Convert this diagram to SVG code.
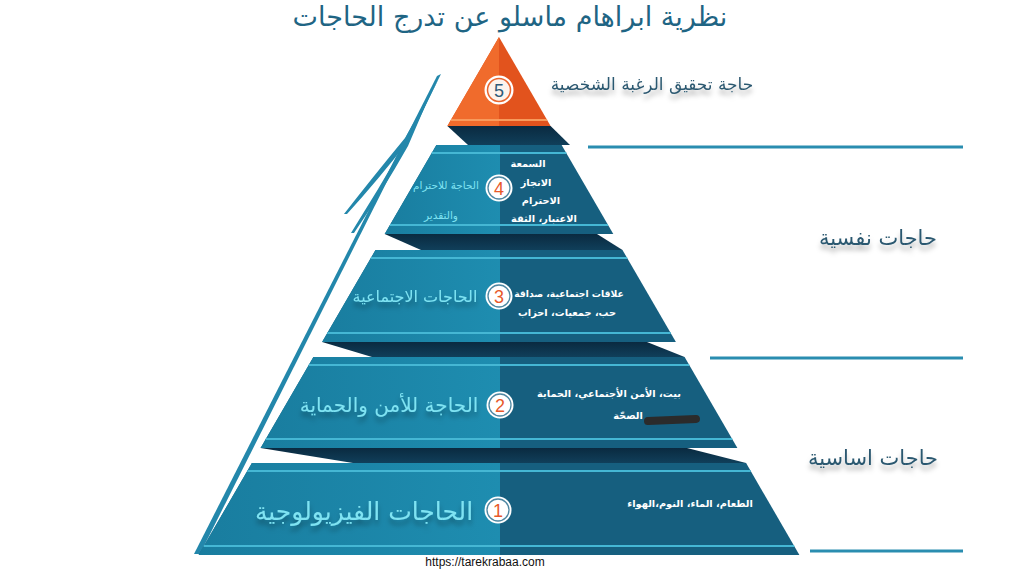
<svg xmlns="http://www.w3.org/2000/svg" width="1024" height="576" viewBox="0 0 1024 576">
<defs>
<style>
.ar{font-family:"DejaVu Sans",sans-serif;}
.title{font-size:27px;fill:#1f6584;text-anchor:middle;}
.side{font-size:21px;fill:#2c5870;text-anchor:middle;}
.cyan{fill:#7fe3f2;text-anchor:middle;}
.wt{fill:#ffffff;font-weight:bold;font-size:9.8px;text-anchor:middle;}
.num{font-family:"Liberation Sans",sans-serif;font-size:18px;text-anchor:middle;fill:#e8592a;}
.stripe{stroke:#45b7d4;stroke-width:2;}
.hline{stroke:#2a8db0;stroke-width:3;}
.lt{fill:url(#gl);}
.dk{fill:#165f7f;}
.sh{fill:url(#gs);}
</style>
<linearGradient id="gl" x1="0" y1="0" x2="1" y2="0">
<stop offset="0" stop-color="#197d9f"/>
<stop offset="1" stop-color="#1e8db0"/>
</linearGradient>
<linearGradient id="gs" x1="0" y1="0" x2="0" y2="1">
<stop offset="0" stop-color="#0a2a40"/>
<stop offset="1" stop-color="#103f5a"/>
</linearGradient>
<filter id="tsh" x="-10%" y="-30%" width="120%" height="180%">
<feDropShadow dx="0" dy="5" stdDeviation="2.5" flood-color="#000" flood-opacity="0.3"/>
</filter>
</defs>
<rect width="1024" height="576" fill="#ffffff"/>

<text class="ar title" x="510" y="26">نظرية ابراهام ماسلو عن تدرج الحاجات</text>

<g id="arrow" fill="#2387ab">
<polygon points="194,554 200,554 441,74 437,76"/>
<path d="M438,80 L405,138 Q372,178 344,214 L347,214 Q378,180 409,140 Z"/>
<path d="M432,90 L404,145 Q378,190 351,233 L354,233 Q382,192 408,146 Z"/>
</g>

<g id="connectors">
<line class="hline" x1="588" y1="147" x2="963" y2="147"/>
<line class="hline" x1="710" y1="358" x2="963" y2="358"/>
<line class="hline" x1="810" y1="551" x2="963" y2="551"/>
</g>

<g id="shadows">
<polygon class="sh" points="447.4,126 550.6,126 570,145 468,145"/>
<polygon class="sh" points="384.7,234 597,234 622.5,250 421,250"/>
<polygon class="sh" points="322.1,342 647,342 684.6,357 372,357"/>
<polygon class="sh" points="260.6,448 687,448 746.1,463 353,463"/>
</g>

<g id="tier5">
<polygon points="499,37 550.6,126 447.4,126" fill="#e2531d"/>
<polygon points="499,37 499,126 447.4,126" fill="#f06b2c"/>
<line x1="450.9" y1="120" x2="547.1" y2="120" stroke="#f89a5c" stroke-width="2"/>
<circle cx="499" cy="90" r="14.5" fill="#ffffff"/>
<circle cx="499" cy="90" r="11.5" fill="#fdf3ec" stroke="#e8652e" stroke-width="1.5"/>
<text class="num" x="499" y="96.5" style="fill:#2e5a78">5</text>
<text class="ar side" x="652" y="90" style="font-size:17px" filter="url(#tsh)">حاجة تحقيق الرغبة الشخصية</text>
</g>

<g id="tier4">
<polygon class="dk" points="436.4,145 561.6,145 613.3,234 384.7,234"/>
<polygon class="lt" points="436.4,145 500,145 500,234 384.7,234"/>
<line class="stripe" x1="431.7" y1="153" x2="566.3" y2="153"/>
<line class="stripe" x1="390" y1="225" x2="608" y2="225"/>
<circle cx="499" cy="188" r="13.5" fill="#ffffff"/>
<circle cx="499" cy="188" r="11" fill="#ffffff" stroke="#4d87a2" stroke-width="1.3"/>
<text class="num" x="499" y="194.5">4</text>
<text class="ar cyan" x="446" y="189" style="font-size:10.5px">الحاجة للاحترام</text>
<text class="ar cyan" x="441" y="219" style="font-size:10.5px">والتقدير</text>
<text class="ar wt" x="528" y="167">السمعة</text>
<text class="ar wt" x="536" y="186">الانجاز</text>
<text class="ar wt" x="541" y="204">الاحترام</text>
<text class="ar wt" x="544" y="222">الاعتبار، الثقة</text>
</g>

<g id="tier3">
<polygon class="dk" points="375.5,250 622.5,250 675.9,342 322.1,342"/>
<polygon class="lt" points="375.5,250 500,250 500,342 322.1,342"/>
<line class="stripe" x1="370.8" y1="258" x2="627.2" y2="258"/>
<line class="stripe" x1="327.3" y1="333" x2="670.7" y2="333"/>
<circle cx="499" cy="296" r="13.5" fill="#ffffff"/>
<circle cx="499" cy="296" r="11" fill="#ffffff" stroke="#4d87a2" stroke-width="1.3"/>
<text class="num" x="499" y="302.5">3</text>
<text class="ar cyan" x="415" y="302" style="font-size:16px" filter="url(#tsh)">الحاجات الاجتماعية</text>
<text class="ar wt" x="569" y="297" style="font-size:9.2px">علاقات اجتماعية، صداقة</text>
<text class="ar wt" x="567" y="316">حب، جمعيات، احزاب</text>
</g>

<g id="tier2">
<polygon class="dk" points="313.4,357 684.6,357 737.4,448 260.6,448"/>
<polygon class="lt" points="313.4,357 500,357 500,448 260.6,448"/>
<line class="stripe" x1="308.8" y1="365" x2="689.2" y2="365"/>
<line class="stripe" x1="265.8" y1="439" x2="732.2" y2="439"/>
<circle cx="500" cy="405" r="13.5" fill="#ffffff"/>
<circle cx="500" cy="405" r="11" fill="#ffffff" stroke="#4d87a2" stroke-width="1.3"/>
<text class="num" x="500" y="411.5">2</text>
<text class="ar cyan" x="389" y="412" style="font-size:20px" filter="url(#tsh)">الحاجة للأمن والحماية</text>
<text class="ar wt" x="609" y="397">بيت، الأمن الأجتماعي، الحماية</text>
<text class="ar wt" x="628" y="419">الصحّة</text>
<line x1="648" y1="421" x2="696" y2="419" stroke="#2b2b2b" stroke-width="8" stroke-linecap="round"/>
</g>

<g id="tier1">
<polygon class="dk" points="251.9,463 746.1,463 799.4,555 198.6,555"/>
<polygon class="lt" points="251.9,463 500,463 500,555 198.6,555"/>
<line class="stripe" x1="247.3" y1="471" x2="750.7" y2="471"/>
<line class="stripe" x1="203.8" y1="546" x2="794.2" y2="546"/>
<circle cx="498" cy="510" r="13.5" fill="#ffffff"/>
<circle cx="498" cy="510" r="11" fill="#ffffff" stroke="#4d87a2" stroke-width="1.3"/>
<text class="num" x="498" y="516.5">1</text>
<text class="ar cyan" x="364" y="520" style="font-size:25px" filter="url(#tsh)">الحاجات الفيزيولوجية</text>
<text class="ar wt" x="690" y="507">الطعام، الماء، النوم،الهواء</text>
</g>

<g id="labels">
<text class="ar side" x="878" y="245" filter="url(#tsh)">حاجات نفسية</text>
<text class="ar side" x="873" y="465" filter="url(#tsh)">حاجات اساسية</text>
<text x="485" y="566" font-family="Liberation Sans, sans-serif" font-size="12" fill="#111" text-anchor="middle">https://tarekrabaa.com</text>
</g>
</svg>
